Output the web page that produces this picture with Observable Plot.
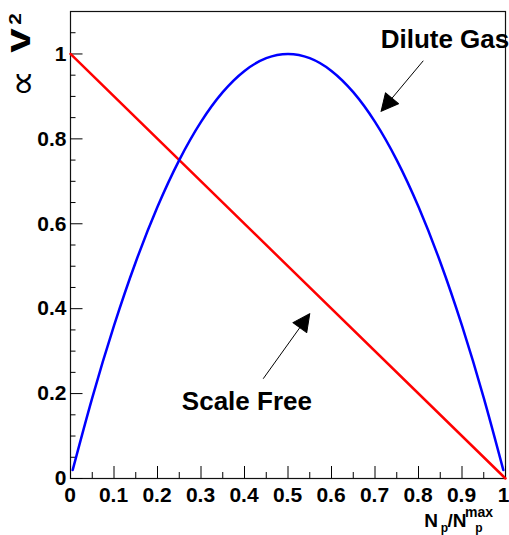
<!DOCTYPE html>
<html><head><meta charset="utf-8">
<script src="https://cdn.jsdelivr.net/npm/d3@7"></script>
<script src="https://cdn.jsdelivr.net/npm/@observablehq/plot@0.6"></script>
<style>
html,body{margin:0;padding:0;background:#fff;}
#chart svg{display:block;}
</style>
</head><body><div id="chart"></div>
<script>
// ---- data ----
const xMajorTicks = [0, 0.1, 0.2, 0.3, 0.4, 0.5, 0.6, 0.7, 0.8, 0.9, 1];
const xTickLabels = ["0", "0.1", "0.2", "0.3", "0.4", "0.5", "0.6", "0.7", "0.8", "0.9", "1"];
const xMinorTicks = [0.05, 0.15, 0.25, 0.35, 0.45, 0.55, 0.65, 0.75, 0.85, 0.95];
const yMajorTicks = [0, 0.2, 0.4, 0.6, 0.8, 1];
const yTickLabels = ["0", "0.2", "0.4", "0.6", "0.8", "1"];
const yMinorTicks = [0.05, 0.1, 0.15, 0.25, 0.3, 0.35, 0.45, 0.5, 0.55, 0.65, 0.7, 0.75, 0.85, 0.9, 0.95, 1.05];

// Scale Free (red straight line)
const scaleFreeX = [0, 1];
const scaleFreeY = [1, 0];

// Dilute Gas (blue curve)
const diluteGasX = [0.005, 0.05, 0.1, 0.15, 0.2, 0.25, 0.3, 0.35, 0.4, 0.45, 0.5, 0.55, 0.6, 0.65, 0.7, 0.75, 0.8, 0.85, 0.9, 0.95, 0.995];
const diluteGasY = [0.02, 0.19, 0.36, 0.51, 0.64, 0.75, 0.84, 0.91, 0.96, 0.99, 1.0, 0.99, 0.96, 0.91, 0.84, 0.75, 0.64, 0.51, 0.36, 0.19, 0.02];

// annotations
const annotationLabels = ["Dilute Gas", "Scale Free"];
const labelX = [0.713, 0.256];
const labelY = [1.015, 0.161];
const arrowTailX = [0.811, 0.443];
const arrowTailY = [0.984, 0.235];
const arrowTipX = [0.714, 0.550];
const arrowTipY = [0.865, 0.388];

// ---- tables built from the arrays ----
const scaleFree = scaleFreeX.map((x, i) => ({x, y: scaleFreeY[i]}));
const diluteGas = diluteGasX.map((x, i) => ({x, y: diluteGasY[i]}));
const annotations = annotationLabels.map((label, i) => ({
  label, lx: labelX[i], ly: labelY[i],
  x1: arrowTailX[i], y1: arrowTailY[i], x2: arrowTipX[i], y2: arrowTipY[i]
}));

const FONT = "'Liberation Sans', Arial, Helvetica, sans-serif";
const base = {
  width: 509, height: 535,
  marginLeft: 70, marginRight: 4, marginTop: 11, marginBottom: 57,
  x: {domain: [0, 1]},
  y: {domain: [0, 1.1]},
  style: `font-family:${FONT};font-size:21px;font-weight:bold;background:white;color:black;overflow:visible;`
};

// first pass to obtain the scales (for arrow-head orientation in screen space)
const probe = Plot.plot({...base, marks: [Plot.frame()]});
const sx = probe.scale("x"), sy = probe.scale("y");
annotations.forEach(a => {
  const dx = sx.apply(a.x2) - sx.apply(a.x1);
  const dy = sy.apply(a.y2) - sy.apply(a.y1);
  a.angle = Math.atan2(dx, -dy) * 180 / Math.PI;
});

const headShape = {
  draw(context, l) {
    context.moveTo(0, -l);
    context.lineTo(-8.5, 0);
    context.lineTo(8.5, 0);
    context.closePath();
  }
};

const xFmt = d => xTickLabels[xMajorTicks.indexOf(d)];
const yFmt = d => yTickLabels[yMajorTicks.indexOf(d)];
const xInner = xMajorTicks.slice(0, -1);
const xLast = xMajorTicks.slice(-1);

const plot = Plot.plot({
  ...base,
  marks: [
    Plot.frame({stroke: "#111", strokeWidth: 1.2}),
    Plot.axisX(xMinorTicks, {tickSize: -6, fill: "none", label: null, strokeWidth: 1}),
    Plot.axisX(xMajorTicks, {tickSize: -12, fill: "none", label: null, strokeWidth: 1}),
    Plot.axisX(xInner, {tickSize: 0, tickPadding: 9, tickFormat: xFmt, label: null, fontSize: 21, dx: -0.5}),
    Plot.axisX(xLast, {tickSize: 0, tickPadding: 9, tickFormat: xFmt, label: null, fontSize: 21, textAnchor: "end", dx: 4}),
    Plot.axisY(yMinorTicks, {tickSize: -5.5, fill: "none", label: null, strokeWidth: 1}),
    Plot.axisY(yMajorTicks, {tickSize: -12.5, fill: "none", label: null, strokeWidth: 1}),
    Plot.axisY(yMajorTicks, {tickSize: 0, tickPadding: 4, tickFormat: yFmt, label: null, fontSize: 21}),
    Plot.line(scaleFree, {x: "x", y: "y", stroke: "#ff0000", strokeWidth: 2.5}),
    Plot.line(diluteGas, {x: "x", y: "y", stroke: "#0000ff", strokeWidth: 2.5, curve: "natural"}),
    Plot.link(annotations, {x1: "x1", y1: "y1", x2: "x2", y2: "y2", stroke: "black", strokeWidth: 1}),
    Plot.vector(annotations, {x: "x2", y: "y2", rotate: "angle", length: 17, anchor: "end", shape: headShape, fill: "black", stroke: "black", strokeWidth: 1}),
    Plot.text(annotations, {x: "lx", y: "ly", text: "label", textAnchor: "start", lineAnchor: "bottom", fontSize: 26, fontWeight: "bold", fill: "black"})
  ]
});

const svg = d3.select(plot);
// y-axis title: ∝ v2 (rotated)
function rotText(x, y, str, size, weight, family, stretch) {
  svg.append("text")
    .attr("transform", `translate(${x},${y}) rotate(-90) scale(${stretch},1)`)
    .attr("text-anchor", "middle")
    .attr("dominant-baseline", "central")
    .attr("font-size", size).attr("font-weight", weight)
    .attr("font-family", family).attr("fill", "black")
    .text(str);
}
rotText(21.5, 83.5, "\u221D", 38, "normal", "'DejaVu Sans', sans-serif", 1);
rotText(18, 40.5, "v", 35, "bold", FONT, 1.25);
rotText(15.5, 19, "2", 16, "bold", FONT, 1.3);

// x-axis title: N_p / N_p^max
function txt(x, y, str, size) {
  svg.append("text").attr("x", x).attr("y", y)
    .attr("font-size", size).attr("font-weight", "bold")
    .attr("font-family", FONT).attr("fill", "black").text(str);
}
txt(431, 527, "N", 19);
txt(444.5, 532, "p", 12);
txt(457, 527, "/N", 19);
txt(479, 532, "p", 12);
txt(479, 517, "max", 14);

document.getElementById("chart").appendChild(plot);
</script>
</body></html>
